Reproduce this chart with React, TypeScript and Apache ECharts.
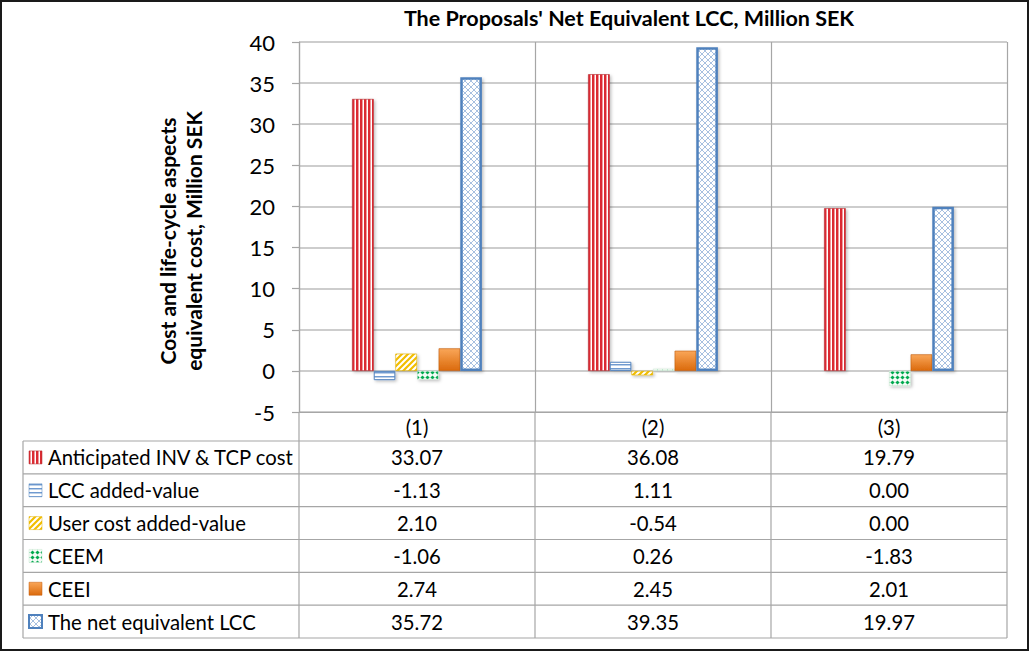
import React, { useEffect, useRef } from "react";
import * as echarts from "echarts";

const categories = ["(1)", "(2)", "(3)"];
const seriesNames = [
  "Anticipated INV & TCP cost",
  "LCC added-value",
  "User cost added-value",
  "CEEM",
  "CEEI",
  "The net equivalent LCC",
];
const invCost = [33.07, 36.08, 19.79];
const lccAdded = [-1.13, 1.11, 0.0];
const userCost = [2.1, -0.54, 0.0];
const ceem = [-1.06, 0.26, -1.83];
const ceei = [2.74, 2.45, 2.01];
const netLcc = [35.72, 39.35, 19.97];
const yMin = -5;
const yMax = 40;
const yStep = 5;

const FONT = "Lato, 'Open Sans', sans-serif";

function makePattern(w: number, h: number, bg: string, draw: (ctx: CanvasRenderingContext2D) => void) {
  const c = document.createElement("canvas");
  c.width = w;
  c.height = h;
  const ctx = c.getContext("2d")!;
  ctx.fillStyle = bg;
  ctx.fillRect(0, 0, w, h);
  draw(ctx);
  return { image: c, repeat: "repeat" } as any;
}

function buildFills() {
  const red = makePattern(4, 4, "#DB2C33", (ctx) => {
    ctx.fillStyle = "#F09A9D";
    ctx.fillRect(2, 0, 1, 4);
    ctx.fillStyle = "#FFFFFF";
    ctx.fillRect(3, 0, 1, 4);
  });
  const blueH = makePattern(4, 4, "#FFFFFF", (ctx) => {
    ctx.fillStyle = "#6F9AD0";
    ctx.fillRect(0, 0, 4, 1);
    ctx.fillStyle = "#BCD0E8";
    ctx.fillRect(0, 1, 4, 1);
  });
  const yellow = makePattern(6, 6, "#FFFFFF", (ctx) => {
    ctx.strokeStyle = "#F2BE00";
    ctx.lineWidth = 2.2;
    ctx.beginPath();
    ctx.moveTo(-1, 7);
    ctx.lineTo(7, -1);
    ctx.moveTo(-4, 4);
    ctx.lineTo(4, -4);
    ctx.moveTo(2, 10);
    ctx.lineTo(10, 2);
    ctx.stroke();
  });
  const green = makePattern(5, 5, "#F4FBF6", (ctx) => {
    ctx.fillStyle = "#00A94F";
    ctx.beginPath();
    ctx.moveTo(2.5, 0.4);
    ctx.lineTo(4.6, 2.5);
    ctx.lineTo(2.5, 4.6);
    ctx.lineTo(0.4, 2.5);
    ctx.closePath();
    ctx.fill();
  });
  const orange = new echarts.graphic.LinearGradient(0, 0, 0, 1, [
    { offset: 0, color: "#F9A658" },
    { offset: 1, color: "#DB6A0C" },
  ]);
  const hatch = makePattern(6, 6, "#FFFFFF", (ctx) => {
    ctx.strokeStyle = "#A7C0E0";
    ctx.lineWidth = 1;
    ctx.beginPath();
    ctx.moveTo(0, 6);
    ctx.lineTo(6, 0);
    ctx.moveTo(0, 0);
    ctx.lineTo(6, 6);
    ctx.stroke();
  });
  return { red, blueH, yellow, green, orange, hatch };
}

export default function App() {
  const ref = useRef<HTMLDivElement>(null);

  useEffect(() => {
    if (!ref.current) return;
    const chart = echarts.init(ref.current, undefined, { renderer: "svg" });
    const f = buildFills();

    const gridLeft = 299;
    const gridTop = 42;
    const gridWidth = 708;
    const gridHeight = 370;
    const colW = gridWidth / categories.length;
    const tableLeft = 23;
    const rowTop = 441;
    const tableBottom = 638;
    const rowH = (tableBottom - rowTop) / seriesNames.length;

    const seriesData = [invCost, lccAdded, userCost, ceem, ceei, netLcc];
    const styles: any[] = [
      { color: f.red, borderColor: "#B3262B", borderWidth: 0.6 },
      { color: f.blueH, borderColor: "#4F81BD", borderWidth: 1 },
      { color: f.yellow, borderColor: "#E0B000", borderWidth: 0.6 },
      { color: f.green, borderColor: "#C9E8D2", borderWidth: 0.6 },
      { color: f.orange, borderColor: "#C05A0B", borderWidth: 0.6 },
      { color: f.hatch, borderColor: "#4F81BD", borderWidth: 2.5 },
    ];
    const iconStyles: any[] = [
      { fill: f.red, stroke: "#B3262B", lineWidth: 0.5 },
      { fill: f.blueH, stroke: "#4F81BD", lineWidth: 0.5 },
      { fill: f.yellow, stroke: "#E0B000", lineWidth: 0.5 },
      { fill: f.green, stroke: "#C9E8D2", lineWidth: 0.5 },
      { fill: f.orange, stroke: "#C05A0B", lineWidth: 0.5 },
      { fill: f.hatch, stroke: "#4F81BD", lineWidth: 2 },
    ];

    const graphics: any[] = [];
    const lineStyle = { stroke: "#A6A6A6", lineWidth: 1.2 };
    for (let i = 0; i <= seriesNames.length; i++) {
      const y = rowTop + i * rowH;
      graphics.push({ type: "line", shape: { x1: tableLeft, y1: y, x2: gridLeft + gridWidth, y2: y }, style: lineStyle, silent: true });
    }
    graphics.push({ type: "line", shape: { x1: tableLeft, y1: rowTop, x2: tableLeft, y2: tableBottom }, style: lineStyle, silent: true });
    for (let c = 0; c <= categories.length; c++) {
      const x = gridLeft + c * colW;
      graphics.push({ type: "line", shape: { x1: x, y1: gridTop + gridHeight, x2: x, y2: tableBottom }, style: lineStyle, silent: true });
    }
    seriesNames.forEach((name, i) => {
      const cy = rowTop + i * rowH + rowH / 2;
      graphics.push({ type: "rect", shape: { x: 29, y: cy - 6.5, width: 13, height: 13 }, style: iconStyles[i], silent: true });
      graphics.push({
        type: "text",
        x: 48,
        y: cy,
        style: { text: name, fontSize: 20.3, fontFamily: FONT, fill: "#000", verticalAlign: "middle", align: "left" },
        silent: true,
      });
      seriesData[i].forEach((v, c) => {
        graphics.push({
          type: "text",
          x: gridLeft + c * colW + colW / 2,
          y: cy,
          style: { text: v.toFixed(2), fontSize: 20.3, fontFamily: FONT, fill: "#000", verticalAlign: "middle", align: "center" },
          silent: true,
        });
      });
    });
    graphics.push({
      type: "text",
      x: 629,
      y: 18,
      style: {
        text: "The Proposals' Net Equivalent LCC, Million SEK",
        fontSize: 21.5,
        fontWeight: "bold",
        fontFamily: FONT,
        fill: "#000",
        align: "center",
        verticalAlign: "middle",
      },
      silent: true,
    });
    graphics.push({
      type: "text",
      x: 180,
      y: 241,
      rotation: Math.PI / 2,
      style: {
        text: "Cost and life-cycle aspects\nequivalent cost, Million SEK",
        fontSize: 21,
        fontWeight: "bold",
        fontFamily: FONT,
        fill: "#000",
        align: "center",
        verticalAlign: "middle",
        lineHeight: 26,
      },
      silent: true,
    });
    graphics.push({
      type: "rect",
      shape: { x: 1, y: 1, width: 1027, height: 649 },
      style: { fill: "none", stroke: "#1A1A1A", lineWidth: 2 },
      silent: true,
    });

    chart.setOption({
      animation: false,
      backgroundColor: "#FFFFFF",
      grid: { left: gridLeft, top: gridTop, width: gridWidth, height: gridHeight },
      xAxis: {
        type: "category",
        data: categories,
        axisLine: { onZero: false, lineStyle: { color: "#A6A6A6", width: 1.2 } },
        axisTick: { show: false },
        splitLine: { show: true, lineStyle: { color: "#A6A6A6", width: 1.2 } },
        axisLabel: { fontSize: 20.3, fontFamily: FONT, color: "#000", margin: 5 },
      },
      yAxis: {
        type: "value",
        min: yMin,
        max: yMax,
        interval: yStep,
        axisLine: { show: true, lineStyle: { color: "#A6A6A6", width: 1.2 } },
        axisTick: { show: true, length: 7, lineStyle: { color: "#A6A6A6", width: 1.2 } },
        splitLine: { show: true, lineStyle: { color: "#BDBDBD", width: 1.5 } },
        axisLabel: { fontSize: 22, fontFamily: FONT, color: "#000", margin: 24 },
      },
      series: seriesNames.map((name, i) => ({
        type: "bar",
        name,
        data: seriesData[i],
        barGap: "0%",
        barCategoryGap: "45%",
        itemStyle: {
          ...styles[i],
          shadowColor: "rgba(0,0,0,0.25)",
          shadowBlur: 3,
          shadowOffsetX: 1.5,
          shadowOffsetY: 1.5,
        },
      })),
      graphic: graphics,
    });
    return () => chart.dispose();
  }, []);

  return (
    <div
      ref={ref}
      style={{ position: "absolute", left: 0, top: 0, width: 1030, height: 653, background: "#fff" }}
    />
  );
}
